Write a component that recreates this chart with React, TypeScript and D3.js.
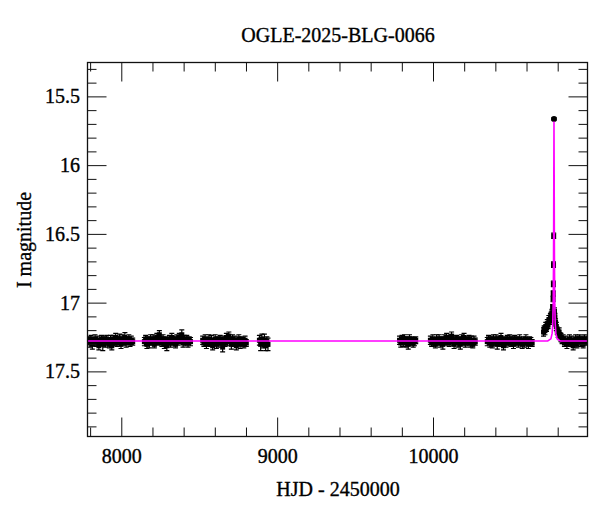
import React from "react";
import * as d3 from "d3";

// [HJD - 2450000, I mag, error]
const SEASON_2017: [number, number, number][] = [
  [7786,17.27,0.025],[7795,17.29,0.03],[7803,17.26,0.025],[7811,17.30,0.035],[7820,17.28,0.025],[7828,17.26,0.03],[7836,17.29,0.025],[7845,17.27,0.03],[7853,17.31,0.03],[7861,17.28,0.025],[7870,17.26,0.025],[7878,17.30,0.045],[7886,17.27,0.025],[7895,17.29,0.03],[7903,17.26,0.025],[7911,17.28,0.03],[7920,17.30,0.025],[7928,17.27,0.035],[7936,17.31,0.03],[7945,17.26,0.025],[7953,17.28,0.03],[7961,17.25,0.03],[7970,17.29,0.025],[7978,17.27,0.03],[7986,17.26,0.035],[7995,17.30,0.03],[8003,17.26,0.03],[8011,17.28,0.025],[8020,17.25,0.035],[8028,17.29,0.03],[8036,17.27,0.025],[8045,17.26,0.03],[8053,17.29,0.025],[8061,17.27,0.03],[8070,17.28,0.025],
];
const SEASON_2018: [number, number, number][] = [
  [8145,17.28,0.03],[8153,17.26,0.025],[8161,17.30,0.03],[8169,17.27,0.025],[8177,17.29,0.035],[8185,17.26,0.03],[8193,17.28,0.025],[8201,17.26,0.03],[8209,17.30,0.025],[8217,17.27,0.03],[8225,17.25,0.03],[8233,17.28,0.025],[8241,17.23,0.03],[8249,17.27,0.03],[8257,17.29,0.025],[8265,17.26,0.03],[8273,17.30,0.03],[8281,17.27,0.025],[8289,17.31,0.035],[8297,17.28,0.03],[8305,17.26,0.025],[8313,17.29,0.03],[8321,17.25,0.03],[8329,17.28,0.025],[8337,17.27,0.03],[8345,17.30,0.025],[8353,17.26,0.03],[8361,17.28,0.025],[8369,17.25,0.03],[8377,17.27,0.025],[8385,17.23,0.035],[8393,17.29,0.03],[8401,17.26,0.025],[8409,17.28,0.03],[8417,17.26,0.025],[8425,17.29,0.03],[8433,17.27,0.025],[8441,17.28,0.03],
];
const SEASON_2019: [number, number, number][] = [
  [8519,17.27,0.03],[8527,17.29,0.025],[8535,17.26,0.03],[8543,17.30,0.03],[8551,17.28,0.025],[8559,17.26,0.03],[8567,17.29,0.025],[8575,17.27,0.035],[8583,17.31,0.03],[8591,17.28,0.025],[8599,17.26,0.03],[8607,17.30,0.03],[8615,17.27,0.025],[8623,17.29,0.03],[8631,17.26,0.025],[8639,17.28,0.03],[8647,17.32,0.035],[8655,17.27,0.03],[8663,17.29,0.025],[8671,17.25,0.03],[8679,17.28,0.03],[8687,17.24,0.03],[8695,17.27,0.025],[8703,17.30,0.035],[8711,17.26,0.03],[8719,17.29,0.025],[8727,17.27,0.03],[8735,17.31,0.03],[8743,17.28,0.025],[8751,17.26,0.03],[8759,17.30,0.03],[8767,17.27,0.025],[8775,17.28,0.03],[8783,17.30,0.025],[8791,17.27,0.03],[8799,17.29,0.025],
];
const SEASON_2020: [number, number, number][] = [
  [8883,17.27,0.035],[8891,17.30,0.045],[8899,17.26,0.035],[8907,17.29,0.035],[8915,17.27,0.045],[8923,17.31,0.035],[8931,17.28,0.035],[8938,17.30,0.045],
];
const SEASON_2022: [number, number, number][] = [
  [9782,17.27,0.03],[9790,17.29,0.03],[9798,17.26,0.025],[9806,17.28,0.035],[9814,17.26,0.03],[9822,17.29,0.03],[9830,17.27,0.025],[9838,17.30,0.035],[9846,17.26,0.03],[9854,17.28,0.03],[9862,17.27,0.025],[9870,17.29,0.03],[9878,17.28,0.03],[9886,17.27,0.025],
];
const SEASON_2023: [number, number, number][] = [
  [9980,17.27,0.03],[9988,17.29,0.025],[9996,17.26,0.03],[10004,17.28,0.03],[10012,17.30,0.025],[10020,17.26,0.03],[10028,17.28,0.025],[10036,17.26,0.03],[10044,17.29,0.03],[10052,17.27,0.025],[10060,17.30,0.035],[10068,17.26,0.03],[10076,17.28,0.025],[10084,17.25,0.03],[10092,17.27,0.03],[10100,17.29,0.025],[10108,17.26,0.03],[10116,17.24,0.03],[10124,17.28,0.025],[10132,17.30,0.03],[10140,17.27,0.03],[10148,17.26,0.025],[10156,17.29,0.03],[10164,17.27,0.025],[10172,17.30,0.035],[10180,17.26,0.03],[10188,17.28,0.025],[10196,17.25,0.03],[10204,17.29,0.03],[10212,17.27,0.025],[10220,17.28,0.03],[10228,17.26,0.025],[10236,17.29,0.03],[10244,17.27,0.03],[10252,17.30,0.025],[10260,17.27,0.03],[10268,17.28,0.025],
];
const SEASON_2024: [number, number, number][] = [
  [10345,17.28,0.03],[10353,17.26,0.025],[10361,17.29,0.03],[10369,17.27,0.03],[10377,17.30,0.025],[10385,17.26,0.03],[10393,17.28,0.025],[10401,17.26,0.03],[10409,17.30,0.035],[10417,17.27,0.03],[10425,17.29,0.025],[10433,17.25,0.03],[10441,17.28,0.03],[10449,17.31,0.03],[10457,17.27,0.025],[10465,17.29,0.03],[10473,17.26,0.025],[10481,17.28,0.03],[10489,17.26,0.03],[10497,17.29,0.025],[10505,17.27,0.03],[10513,17.30,0.03],[10521,17.26,0.025],[10529,17.28,0.03],[10537,17.27,0.025],[10545,17.29,0.03],[10553,17.26,0.03],[10561,17.28,0.025],[10569,17.30,0.03],[10577,17.27,0.025],[10585,17.29,0.03],[10593,17.26,0.03],[10601,17.28,0.025],[10609,17.30,0.03],[10617,17.27,0.025],[10625,17.28,0.03],[10633,17.29,0.025],
];
const SEASON_2025: [number, number, number][] = [
  [10706,17.21,0.03],[10710,17.19,0.025],[10715,17.20,0.03],[10720,17.17,0.03],[10725,17.18,0.025],[10730,17.15,0.03],[10735,17.16,0.025],[10740,17.12,0.03],[10745,17.13,0.025],[10750,17.10,0.025],[10755,17.09,0.025],[10760,17.07,0.025],[10764,17.03,0.02],
  [10767,16.97,0.02],[10768,16.93,0.02],[10769,16.86,0.02],[10770,16.72,0.02],[10771,16.51,0.02],[10773,15.66,0.01],
  [10776,17.06,0.025],[10779,17.10,0.025],[10783,17.14,0.025],[10788,17.17,0.03],[10794,17.20,0.025],[10800,17.22,0.03],[10806,17.21,0.03],[10812,17.24,0.025],[10818,17.25,0.03],[10825,17.27,0.025],[10832,17.26,0.03],[10840,17.29,0.025],[10848,17.27,0.03],[10856,17.30,0.03],[10864,17.28,0.025],[10872,17.26,0.03],[10880,17.29,0.025],[10888,17.27,0.03],[10896,17.31,0.03],[10904,17.28,0.025],[10912,17.26,0.03],[10920,17.30,0.025],[10928,17.27,0.03],[10936,17.26,0.03],[10944,17.29,0.025],[10952,17.27,0.03],[10960,17.30,0.025],[10968,17.26,0.03],[10976,17.28,0.025],[10984,17.27,0.03],
];

// Model curve
const MODEL_T = [7780, 10733, 10753, 10761, 10765, 10768, 10770, 10771, 10772, 10773, 10774, 10775, 10776, 10778, 10781, 10785, 10793, 10813, 10990];
const MODEL_MAG = [17.275, 17.275, 17.26, 17.22, 17.15, 17.0, 16.7, 16.4, 16.0, 15.68, 16.0, 16.4, 16.7, 17.0, 17.15, 17.22, 17.26, 17.275, 17.275];

const X_MAJOR = [8000, 9000, 10000];
const Y_MAJOR = [15.5, 16, 16.5, 17, 17.5];

const TITLE = "OGLE-2025-BLG-0066";
const X_LABEL = "HJD - 2450000";
const Y_LABEL = "I magnitude";

export default function App() {
  const W = 600, H = 512;
  const L = 87.5, R = 587.5, T = 62.5, B = 436.5;
  const x = d3.scaleLinear().domain([7780, 10988]).range([L, R]);
  const y = d3.scaleLinear().domain([15.25, 17.97]).range([T, B]);
  const font = "'Liberation Serif', 'Times New Roman', serif";
  const fs = 20;
  const textProps = { fontFamily: font, fontSize: fs, fill: "#000", stroke: "#000", strokeWidth: 0.35 };

  const data = [
    ...SEASON_2017, ...SEASON_2018, ...SEASON_2019, ...SEASON_2020,
    ...SEASON_2022, ...SEASON_2023, ...SEASON_2024, ...SEASON_2025,
  ];

  const xMinor = d3.range(7800, 10990, 200).filter((v) => !X_MAJOR.includes(v));
  const yMinor = d3.range(153, 180).map((v) => v / 10).filter((v) => !Y_MAJOR.some((m) => Math.abs(m - v) < 1e-6));

  const line = d3.line<number>().x((_, i) => x(MODEL_T[i])).y((d) => y(d));

  const tc = "#111";
  const major = 19, minor = 9;
  const ms = 5;

  return (
    <svg width={W} height={H} style={{ position: "absolute", left: 0, top: 0, background: "#fff" }}>
      <rect x={0} y={0} width={W} height={H} fill="#fff" />
      <text x={338} y={42} textAnchor="middle" {...textProps}>{TITLE}</text>

      <defs>
        <clipPath id="plotclip">
          <rect x={L} y={T} width={R - L} height={B - T} />
        </clipPath>
      </defs>

      <g clipPath="url(#plotclip)">
        {data.map((d, i) => {
          const cx = x(d[0]);
          const y1 = y(d[1] - d[2]);
          const y2 = y(d[1] + d[2]);
          const isPeak = d[1] < 15.8;
          return (
            <g key={i} stroke="#000" strokeWidth={1.2}>
              <line x1={cx} x2={cx} y1={y1} y2={y2} />
              <line x1={cx - 2.5} x2={cx + 2.5} y1={y1} y2={y1} />
              <line x1={cx - 2.5} x2={cx + 2.5} y1={y2} y2={y2} />
              {isPeak ? (
                <circle cx={cx} cy={y(d[1])} r={3} fill="#000" stroke="none" />
              ) : (
                <rect x={cx - ms / 2} y={y(d[1]) - ms / 2} width={ms} height={ms} fill="#000" stroke="none" />
              )}
            </g>
          );
        })}
        <path d={line(MODEL_MAG) || ""} fill="none" stroke="#ff00ff" strokeWidth={1.6} />
      </g>

      {/* ticks */}
      <g stroke={tc} strokeWidth={1}>
        {X_MAJOR.map((v) => (
          <g key={"xm" + v}>
            <line x1={x(v)} x2={x(v)} y1={B} y2={B - major} />
            <line x1={x(v)} x2={x(v)} y1={T} y2={T + major} />
          </g>
        ))}
        {xMinor.map((v) => (
          <g key={"xn" + v}>
            <line x1={x(v)} x2={x(v)} y1={B} y2={B - minor} />
            <line x1={x(v)} x2={x(v)} y1={T} y2={T + minor} />
          </g>
        ))}
        {Y_MAJOR.map((v) => (
          <g key={"ym" + v}>
            <line x1={L} x2={L + major} y1={y(v)} y2={y(v)} />
            <line x1={R} x2={R - major} y1={y(v)} y2={y(v)} />
          </g>
        ))}
        {yMinor.map((v) => (
          <g key={"yn" + v}>
            <line x1={L} x2={L + minor} y1={y(v)} y2={y(v)} />
            <line x1={R} x2={R - minor} y1={y(v)} y2={y(v)} />
          </g>
        ))}
      </g>
      <rect x={L} y={T} width={R - L} height={B - T} fill="none" stroke={tc} strokeWidth={1.3} />

      {X_MAJOR.map((v) => (
        <text key={"xl" + v} x={x(v)} y={463} textAnchor="middle" {...textProps}>
          {d3.format("d")(v)}
        </text>
      ))}
      {Y_MAJOR.map((v) => (
        <text key={"yl" + v} x={80} y={y(v) + 6.5} textAnchor="end" {...textProps}>
          {String(v)}
        </text>
      ))}
      <text x={338} y={496} textAnchor="middle" {...textProps}>{X_LABEL}</text>
      <text transform={`translate(31,240) rotate(-90)`} textAnchor="middle" {...textProps}>{Y_LABEL}</text>
    </svg>
  );
}
